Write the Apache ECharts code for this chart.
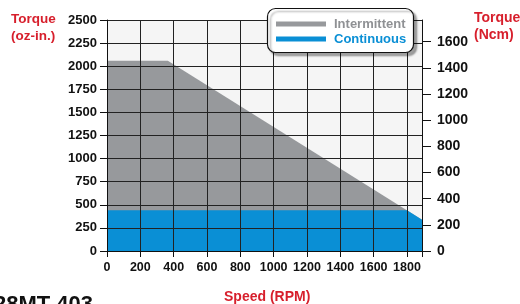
<!DOCTYPE html>
<html><head><meta charset="utf-8">
<script src="https://cdn.jsdelivr.net/npm/echarts@6/dist/echarts.min.js"></script>
<style>html,body{margin:0;padding:0;background:#fff}#c{width:520px;height:304px}</style>
</head><body><div id="c"></div>
<script>
// Data (speed in RPM, torque in oz-in.)
const intermittentSpeed = [0, 365, 1890];
const intermittentTorque = [2060, 2060, 337];
const continuousSpeed = [0, 1800, 1890];
const continuousTorque = [440, 440, 337];
const leftTicks = [0, 250, 500, 750, 1000, 1250, 1500, 1750, 2000, 2250, 2500];
const rightTicks = [0, 200, 400, 600, 800, 1000, 1200, 1400, 1600];
const speedTicks = [0, 200, 400, 600, 800, 1000, 1200, 1400, 1600, 1800];
const seriesNames = ['Intermittent', 'Continuous'];
const OZIN_TO_NCM = 0.7062;

const FONT = 'Liberation Sans, Arial, sans-serif';
const RED = '#d71f2c';
const GRAY = '#97999c';
const BLUE = '#0a8fd5';

const chart = echarts.init(document.getElementById('c'), null, {renderer: 'canvas'});
const pair = (xs, ys) => xs.map((x, i) => [x, ys[i]]);
const xMax = 1890, yMax = 2500;
const plain = v => String(v);

chart.setOption({
  animation: false,
  backgroundColor: '#ffffff',
  grid: {left: 107, right: 98, top: 20, bottom: 53, show: true, backgroundColor: '#f5f5f5', borderWidth: 0},
  xAxis: {
    type: 'value', min: 0, max: xMax, interval: 200, z: 10,
    axisLine: {show: true, onZero: false, lineStyle: {color: '#111', width: 1}},
    axisTick: {show: true, length: 6, lineStyle: {color: '#111', width: 1}},
    axisLabel: {margin: 10, color: '#111', fontFamily: FONT, fontWeight: 'bold', fontSize: 12.5,
      formatter: v => (speedTicks.indexOf(v) >= 0 ? String(v) : '')},
    splitLine: {show: true, lineStyle: {color: '#222', width: 1}}
  },
  yAxis: [{
    type: 'value', min: 0, max: yMax, interval: 250, position: 'left', z: 10,
    axisLine: {show: true, lineStyle: {color: '#111', width: 1}},
    axisTick: {show: true, length: 7, lineStyle: {color: '#111', width: 1}},
    axisLabel: {margin: 10, color: '#111', fontFamily: FONT, fontWeight: 'bold', fontSize: 13,
      customValues: leftTicks, formatter: plain},
    splitLine: {show: true, lineStyle: {color: '#222', width: 1}}
  }, {
    type: 'value', min: 0, max: yMax * OZIN_TO_NCM, position: 'right', z: 10,
    axisLine: {show: true, lineStyle: {color: '#111', width: 1}},
    axisTick: {show: true, length: 9, customValues: rightTicks, lineStyle: {color: '#111', width: 1}},
    axisLabel: {margin: 15, color: '#111', fontFamily: FONT, fontWeight: 'bold', fontSize: 14,
      customValues: rightTicks, formatter: plain},
    splitLine: {show: false}
  }],
  series: [{
    name: seriesNames[0], type: 'line', data: pair(intermittentSpeed, intermittentTorque),
    symbol: 'none', z: 2, lineStyle: {width: 0}, itemStyle: {color: GRAY},
    areaStyle: {color: GRAY, opacity: 1}
  }, {
    name: seriesNames[1], type: 'line', data: pair(continuousSpeed, continuousTorque),
    symbol: 'none', z: 3, lineStyle: {width: 0}, itemStyle: {color: BLUE},
    areaStyle: {color: BLUE, opacity: 1}
  }],
  graphic: [
    {type: 'text', left: 11, top: 11, style: {text: 'Torque\n(oz-in.)', fill: RED, font: 'bold 13.5px ' + FONT, lineHeight: 17, align: 'center'}},
    {type: 'text', left: 474, top: 10, style: {text: 'Torque\n(Ncm)', fill: RED, font: 'bold 14px ' + FONT, lineHeight: 17}},
    {type: 'text', left: 224, top: 290, style: {text: 'Speed (RPM)', fill: RED, font: 'bold 14px ' + FONT}},
    {type: 'text', left: -6, top: 294, style: {text: '28MT 403', fill: '#111', font: 'bold 22px ' + FONT}},
    {type: 'rect', z: 20, shape: {x: 267.5, y: 8.5, width: 146, height: 44, r: 8},
      style: {fill: '#fff', stroke: '#111', lineWidth: 1.2, shadowColor: 'rgba(0,0,0,0.35)', shadowBlur: 2, shadowOffsetX: 3, shadowOffsetY: 3}},
    {type: 'rect', z: 21, shape: {x: 276, y: 21.5, width: 50, height: 5}, style: {fill: GRAY}},
    {type: 'rect', z: 21, shape: {x: 276, y: 36.5, width: 50, height: 5}, style: {fill: BLUE}},
    {type: 'text', z: 21, x: 334, y: 24, style: {text: seriesNames[0], fill: '#8f9194', font: 'bold 13px ' + FONT, verticalAlign: 'middle'}},
    {type: 'text', z: 21, x: 334, y: 39, style: {text: seriesNames[1], fill: BLUE, font: 'bold 13px ' + FONT, verticalAlign: 'middle'}}
  ]
});
</script></body></html>
